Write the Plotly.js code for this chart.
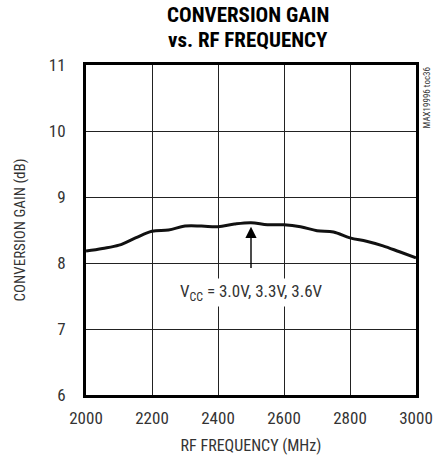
<!DOCTYPE html>
<html>
<head>
<meta charset="utf-8">
<script src="https://cdn.plot.ly/plotly-3.0.1.min.js"></script>
<style>html,body{margin:0;padding:0;background:#fff;}#chart{width:442px;height:458px;}</style>
</head>
<body>
<div id="chart"></div>
<script>
const freqMHz = [2000,2050,2100,2150,2200,2250,2300,2350,2400,2450,2500,2550,2600,2650,2700,2750,2800,2850,2900,2950,3000];
const gainDb  = [8.18,8.22,8.27,8.38,8.48,8.50,8.56,8.56,8.55,8.59,8.61,8.58,8.58,8.55,8.49,8.47,8.38,8.33,8.26,8.17,8.08];
const xTicks = [2000,2200,2400,2600,2800,3000];
const yTicks = [6,7,8,9,10,11];
const titleLines = ['CONVERSION GAIN', 'vs. RF FREQUENCY'];
const labelText = 'V<sub>CC</sub> = 3.0V, 3.3V, 3.6V';
const arrowX = 2500, arrowTail = 7.9, arrowTip = 8.55, labelY = 7.56;

const FONT = '"Liberation Sans Narrow", "Roboto Condensed", "DejaVu Sans Condensed", "Arial Narrow", sans-serif';

const trace = {
  x: freqMHz, y: gainDb, type: 'scatter', mode: 'lines',
  line: {color: '#111', width: 3, shape: 'spline', smoothing: 1},
  hoverinfo: 'skip'
};

const layout = {
  width: 442, height: 458,
  margin: {l: 86, r: 26, t: 65, b: 63},
  paper_bgcolor: '#fff', plot_bgcolor: '#fff',
  showlegend: false,
  font: {family: FONT, color: '#222', size: 17},
  xaxis: {
    range: [2000, 3000], tickvals: xTicks, ticktext: xTicks.map(String),
    showgrid: true, gridcolor: '#222', gridwidth: 1,
    showline: true, linecolor: '#000', linewidth: 3, mirror: true,
    ticks: '', zeroline: false, ticklabelstandoff: 6,
    tickfont: {family: FONT, size: 17, color: '#333'},
    title: {text: 'RF FREQUENCY (MHz)', font: {family: FONT, size: 16, color: '#333'}, standoff: 13},
    fixedrange: true
  },
  yaxis: {
    range: [6, 11], tickvals: yTicks, ticktext: yTicks.map(String),
    showgrid: true, gridcolor: '#222', gridwidth: 1,
    showline: true, linecolor: '#000', linewidth: 3, mirror: true,
    ticks: '', zeroline: false, ticklabelstandoff: 14,
    tickfont: {family: FONT, size: 17, color: '#333'},
    title: {text: 'CONVERSION GAIN (dB)', font: {family: FONT, size: 15, color: '#333'}, standoff: 20},
    fixedrange: true
  },
  annotations: [
    {
      x: 0.49, y: 1.1515, xref: 'paper', yref: 'paper', xanchor: 'center', yanchor: 'middle',
      text: '<b>' + titleLines[0] + '</b>', showarrow: false,
      font: {family: FONT, size: 21, color: '#000'}
    },
    {
      x: 0.49, y: 1.0758, xref: 'paper', yref: 'paper', xanchor: 'center', yanchor: 'middle',
      text: '<b>' + titleLines[1] + '</b>', showarrow: false,
      font: {family: FONT, size: 21, color: '#000'}
    },
    {
      x: arrowX, y: arrowTip, xref: 'x', yref: 'y',
      ax: arrowX, ay: arrowTail, axref: 'x', ayref: 'y',
      text: '', showarrow: true, arrowhead: 2, arrowsize: 1.6, arrowwidth: 1.4, arrowcolor: '#000'
    },
    {
      x: arrowX, y: labelY, xref: 'x', yref: 'y',
      text: labelText, showarrow: false, bgcolor: '#fff',
      font: {family: FONT, size: 17, color: '#333'}, borderpad: 2
    },
    {
      x: 1.012, y: 1, xref: 'paper', yref: 'paper', xanchor: 'left', yanchor: 'top',
      text: 'MAX19996 toc36', textangle: -90, showarrow: false,
      font: {family: FONT, size: 9, color: '#333'}
    }
  ]
};

Plotly.newPlot('chart', [trace], layout, {displayModeBar: false, staticPlot: true});
</script>
</body>
</html>
